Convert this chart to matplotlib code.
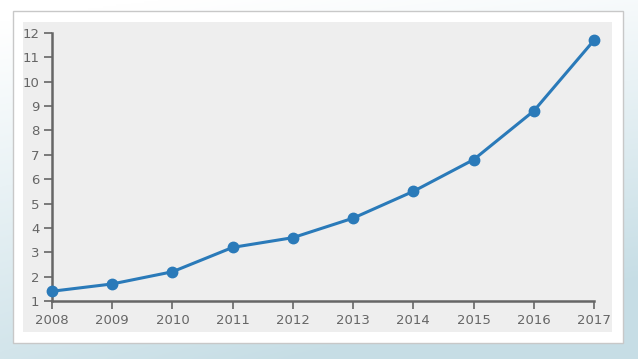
import matplotlib
matplotlib.use("Agg")
import matplotlib.pyplot as plt
import numpy as np
from matplotlib.patches import Rectangle

years = [2008, 2009, 2010, 2011, 2012, 2013, 2014, 2015, 2016, 2017]
values = [1.4, 1.7, 2.2, 3.2, 3.6, 4.4, 5.5, 6.8, 8.8, 11.7]
yticks = list(range(1, 13))

W, H = 638, 359
fig = plt.figure(figsize=(W / 100, H / 100), dpi=100)

# background gradient
bg = fig.add_axes([0, 0, 1, 1], zorder=-10)
yy, xx = np.mgrid[0:1:200j, 0:1:300j]
t = np.clip(0.85 * yy + 0.25 * xx * yy + 0.2 * xx - 0.05, 0, 1)
top = np.array([1.0, 1.0, 1.0])
bot = np.array([0.78, 0.87, 0.90])
img = top[None, None, :] * (1 - t[..., None]) + bot[None, None, :] * t[..., None]
bg.imshow(img, aspect="auto", extent=[0, 1, 0, 1], origin="upper")
bg.axis("off")

def fx(px):
    return px / W

def fy(py):
    return 1 - py / H

# white panel
fig.patches.append(Rectangle((fx(13), fy(343)), fx(623) - fx(13), fy(11) - fy(343),
                             transform=fig.transFigure, facecolor="white",
                             edgecolor="#c8c8c8", linewidth=1.0, zorder=-5))
# gray plot region
fig.patches.append(Rectangle((fx(23), fy(332)), fx(612) - fx(23), fy(22) - fy(332),
                             transform=fig.transFigure, facecolor="#eeeeee",
                             edgecolor="none", zorder=-4))

ax = fig.add_axes([fx(52), fy(301), fx(594) - fx(52), fy(33) - fy(301)])
ax.patch.set_alpha(0)
ax.plot(years, values, color="#2a7ab9", linewidth=2.2, marker="o", markersize=7.5,
        clip_on=False, zorder=5)
ax.set_xlim(2008, 2017)
ax.set_ylim(1, 12)
ax.set_xticks(years)
ax.set_xticklabels([str(y) for y in years])
ax.set_yticks(yticks)
for s in ["top", "right"]:
    ax.spines[s].set_visible(False)
for s in ["left", "bottom"]:
    ax.spines[s].set_color("#666666")
    ax.spines[s].set_linewidth(1.8)
ax.tick_params(axis="both", colors="#666666", labelcolor="#666666", labelsize=9.5,
               length=6, width=1.2, direction="out", pad=3)

fig.savefig("out.png", dpi=100)
